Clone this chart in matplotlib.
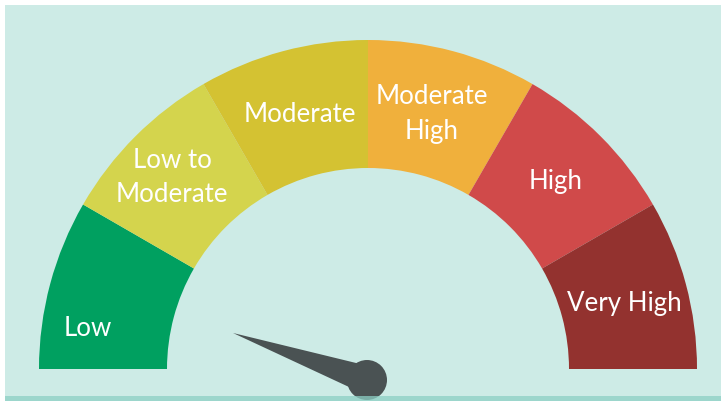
import numpy as np
import matplotlib
matplotlib.use("Agg")
import matplotlib.pyplot as plt
from matplotlib.patches import Wedge, Circle, Polygon, Rectangle

categories = ["Low", "Low to\nModerate", "Moderate", "Moderate\nHigh", "High", "Very High"]
segment_values = [1, 1, 1, 1, 1, 1]
colors = ["#00a060", "#d4d44d", "#d4c232", "#f0b03c", "#d04a4a", "#93322f"]

W, H = 721, 402
fig = plt.figure(figsize=(W / 100, H / 100), dpi=100)
ax = fig.add_axes([0, 0, 1, 1])
ax.set_xlim(0, W)
ax.set_ylim(H, 0)
ax.axis("off")
fig.patch.set_facecolor("white")

# background panel
ax.add_patch(Rectangle((5, 6), W - 5, H - 6, facecolor="#cdebe6", edgecolor="none", zorder=0))

cx, cy = 368, 370
r_out, r_in = 329, 201

total = sum(segment_values)
start = 180.0
for cat, v, col in zip(categories, segment_values, colors):
    span = 180.0 * v / total
    a1 = start - span
    ax.add_patch(Wedge((cx, cy), r_out, -start, -a1, width=r_out - r_in,
                       facecolor=col, edgecolor="none", zorder=1))
    start = a1

label_pos = [(88, 329), (172, 178), (300, 115), (432, 114), (556, 182), (624, 304)]
for cat, (x, y) in zip(categories, label_pos):
    ax.text(x, y, cat, color="white", fontsize=18.6, family="Lato",
            ha="center", va="center", linespacing=1.45, zorder=3)

# needle
nc = (367, 381)
tip = (233, 334)
d = np.array(tip) - np.array(nc)
d = d / np.linalg.norm(d)
perp = np.array([-d[1], d[0]])
hw = 14
p1 = np.array(nc) + perp * hw
p2 = np.array(nc) - perp * hw
ax.add_patch(Polygon([tip, p1, p2], closed=True, facecolor="#4a5253", edgecolor="none", zorder=4))
ax.add_patch(Circle(nc, 20, facecolor="#4a5253", edgecolor="none", zorder=4))

# bottom strip
ax.add_patch(Rectangle((5, 397), W - 5, 6, facecolor="#8ccfc4", alpha=0.75, edgecolor="none", zorder=5))

fig.savefig("out.png", dpi=100, facecolor=fig.get_facecolor())
